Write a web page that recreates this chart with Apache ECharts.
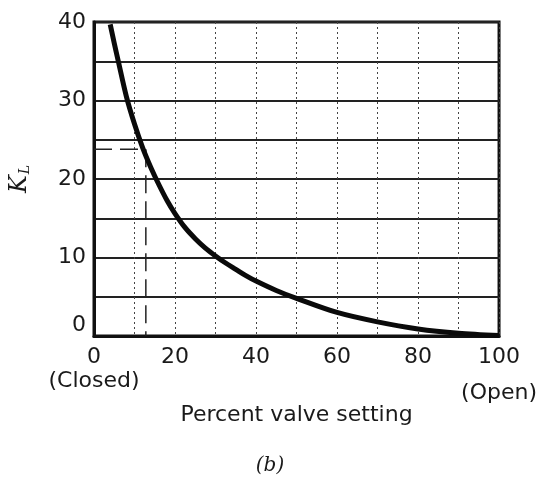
<!DOCTYPE html>
<html>
<head>
<meta charset="utf-8">
<script src="https://cdn.jsdelivr.net/npm/echarts@6/dist/echarts.min.js"></script>
<style>
html,body{margin:0;padding:0;background:#fff;}
#chart{width:540px;height:482px;}
</style>
</head>
<body>
<div id="chart"></div>
<script>
// Percent valve setting (x) and loss coefficient K_L (y)
var valveSetting   = [4, 5, 6, 8, 10, 12, 14, 16, 18, 20, 22.5, 25, 27.5, 30, 32.5, 35, 37.5, 40, 45, 50, 60, 70, 80, 90, 100];
var lossCoeff      = [39.7, 37.3, 35, 30.5, 27, 24, 21.5, 19.3, 17.3, 15.6, 13.8, 12.4, 11.2, 10.2, 9.3, 8.5, 7.7, 7.0, 5.8, 4.8, 3.0, 1.8, 0.9, 0.35, 0.05];
// dashed reading line
var refX = [0, 12.8, 12.8];
var refY = [23.8, 23.8, 0];
// labels
var xLabelValues = [0, 20, 40, 60, 80, 100];
var yLabelValues = [0, 10, 20, 30, 40];
var closedNote = '(Closed)';
var openNote = '(Open)';
var xName = 'Percent valve setting';
var yNameMain = 'K';
var yNameSub = 'L';
var caption = '(b)';

var FONT = 'DejaVu Sans';
var chart = echarts.init(document.getElementById('chart'), null, {renderer:'canvas'});

function zip(a, b){ return a.map(function(v,i){ return [v, b[i]]; }); }

chart.setOption({
  backgroundColor: '#ffffff',
  animation: false,
  grid: {left: 92, right: 40, top: 22, bottom: 146, show: true, borderColor: '#111', borderWidth: 3, backgroundColor: 'transparent'},
  xAxis: {
    type: 'value', min: 0, max: 100, interval: 10,
    axisLine: {show: true, lineStyle: {color: '#111', width: 3}},
    axisTick: {show: false},
    splitLine: {show: true, lineStyle: {color: '#444', width: 1, type: [2, 3]}},
    axisLabel: {
      margin: 9, color: '#1a1a1a', fontFamily: FONT, fontSize: 22, lineHeight: 24,
      formatter: function(v){
        if (xLabelValues.indexOf(v) < 0) return '';
        if (v === 0) return '0\n{c|' + closedNote + '}';
        if (v === 100) return '100\n{o|' + openNote + '}';
        return String(v);
      },
      rich: {
        c: {fontFamily: FONT, fontSize: 22, color: '#1a1a1a', lineHeight: 24},
        o: {fontFamily: FONT, fontSize: 22, color: '#1a1a1a', lineHeight: 24, padding: [24, 0, 0, 0]}
      }
    },
    name: xName, nameLocation: 'middle', nameGap: 68, nameMoveOverlap: false,
    nameTextStyle: {fontFamily: FONT, fontSize: 22, color: '#1a1a1a'}
  },
  yAxis: {
    type: 'value', min: 0, max: 40, interval: 5,
    axisLine: {show: true, lineStyle: {color: '#111', width: 3}},
    axisTick: {show: false},
    splitLine: {show: true, lineStyle: {color: '#222', width: 2}},
    axisLabel: {
      margin: 8, color: '#1a1a1a', fontFamily: FONT, fontSize: 22,
      formatter: function(v){
        if (yLabelValues.indexOf(v) < 0) return '';
        if (v === 0) return '{z|0}';
        return String(v);
      },
      rich: {z: {fontFamily: FONT, fontSize: 22, color: '#1a1a1a', padding: [0, 0, 22, 0]}}
    },
    name: '{k|' + yNameMain + '}{s|' + yNameSub + '}', nameLocation: 'middle', nameGap: 62, nameRotate: 90,
    nameTextStyle: {
      rich: {
        k: {fontFamily: 'DejaVu Serif', fontStyle: 'italic', fontSize: 24, color: '#1a1a1a'},
        s: {fontFamily: 'DejaVu Serif', fontStyle: 'italic', fontSize: 14, color: '#1a1a1a', padding: [10, 0, 0, 1]}
      }
    }
  },
  series: [
    {
      type: 'line', data: zip(refX, refY), symbol: 'none', silent: true,
      lineStyle: {color: '#222', width: 1.5, type: [18, 8]}, z: 3
    },
    {
      type: 'line', data: zip(valveSetting, lossCoeff), symbol: 'none', smooth: 0.3, silent: true,
      lineStyle: {color: '#0a0a0a', width: 5}, z: 4, clip: false
    }
  ],
  graphic: [
    {type: 'text', left: 'center', top: 456, style: {text: caption, fontFamily: 'DejaVu Serif', fontStyle: 'italic', fontSize: 20, fill: '#1a1a1a'}}
  ]
});
</script>
</body>
</html>
